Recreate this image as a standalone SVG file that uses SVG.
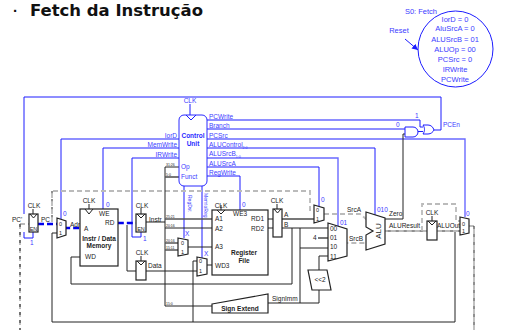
<svg xmlns="http://www.w3.org/2000/svg" width="530" height="330" viewBox="0 0 530 330">
<style>
text{font-family:"Liberation Sans",Arial,sans-serif;font-size:6.5px;fill:#222}
.b{fill:#3c3cff}
.c{text-anchor:middle}
.e{text-anchor:end}
.t{font-size:3.5px}
.s{font-size:7.5px;fill:#3c3cff;text-anchor:middle}
.w{font-weight:bold;text-anchor:middle}
.n{fill:#fff;stroke:#222;stroke-width:1.2}
.l{fill:none;stroke:#222;stroke-width:1}
.g{fill:none;stroke:#555;stroke-width:1.6}
.u{fill:none;stroke:#1c1cff;stroke-width:1}
.v{fill:none;stroke:#6a6aff;stroke-width:1.4}
.d{fill:none;stroke:#bbb;stroke-width:1.8;stroke-dasharray:5 3}
.k{fill:none;stroke:#222;stroke-width:1;stroke-dasharray:3 5}
.p{fill:none;stroke:#0000ee;stroke-width:2.4;stroke-dasharray:6 3}
</style>
<defs>
<marker id="ah" markerWidth="7" markerHeight="7" refX="6" refY="3" orient="auto"><path d="M0 0L6 3L0 6Z" fill="#1c1cff"/></marker>
</defs>
<text x="13" y="16" style="font-size:15px;font-weight:bold;fill:#111">·</text>
<text x="30" y="16" textLength="173" lengthAdjust="spacingAndGlyphs" style="font-family:'DejaVu Sans',sans-serif;font-size:15px;font-weight:bold;fill:#111">Fetch da Instrução</text>

<g id="state-s0">
<ellipse cx="455.500" cy="49" rx="37.500" ry="38" fill="#fff" stroke="#1c1cff" stroke-width="1"/>
<text class="s" x="421" y="14">S0: Fetch</text>
<text class="s" x="455" y="22">IorD = 0</text>
<text class="s" x="455" y="31">AluSrcA = 0</text>
<text class="s" x="455" y="42">ALUSrcB = 01</text>
<text class="s" x="455" y="52">ALUOp = 00</text>
<text class="s" x="455" y="62">PCSrc = 0</text>
<text class="s" x="455" y="72">IRWrite</text>
<text class="s" x="455" y="82">PCWrite</text>
<text class="s" x="399" y="33">Reset</text>
</g>

<g id="connectors">
<path class="u" d="M405 39L418 50" marker-end="url(#ah)"/>
<path class="u" d="M24 214V97H441V130H434M24 232V238H33V232"/>
<path class="u" d="M207 120H420V127H423"/>
<path class="u" d="M207 129H405"/>
<path class="v" d="M207 139H465V217"/>
<path class="u" d="M207 148H375V217"/>
<path class="v" d="M207 158H338V228"/>
<path class="u" d="M207 167H319V208"/>
<path class="u" d="M207 176H240V210"/>
<path class="v" d="M61 139H179"/>
<path class="u" d="M61 139V219"/>
<path class="v" d="M103 148H179"/>
<path class="u" d="M103 148V209"/>
<path class="v" d="M132 158H179"/>
<path class="u" d="M132 158V237H141V232"/>
<path class="u" d="M184 186V238M202 186V258M190 104V115M418 131.500H423"/>
<path class="k" d="M52 191V222"/>
<path class="d" d="M52 222V191H310V210H314"/>
<path class="d" d="M20 224H29M20 224V330"/>
<path class="k" d="M20 224V330"/>
<path class="l" d="M146 222H165M165 167V306M165 167H179"/>
<path class="g" d="M165 177H179"/>
<path class="g" d="M165 219H212"/>
<path class="l" d="M165 228H212"/>
<path class="g" d="M165 243H178M165 250H178"/>
<path class="l" d="M188 247H212M207 265H212M146 271H197M268 219H273M268 228H273"/>
<path class="l" d="M127 225V271H136"/>
<path class="l" d="M292 228V284H71V257H80"/>
<path class="l" d="M52 233H57M52 233V322H455V231"/>
<path class="l" d="M193 261V322M193 261H197"/>
<path class="l" d="M165 306H212M268 303H319V290"/>
<path class="g" d="M282 219H314"/>
<path class="l" d="M282 228H328M300 228V303M300 248H328M319 270V256H328"/>
<path class="g" d="M318 238H328"/>
<path class="l" d="M385 219H403V134H405"/>
<path class="l" d="M385 231H427M437 231H460"/>
<path class="d" d="M324 214H360L366 219L385 231H427M437 231H460"/>
<path class="d" d="M328 238L347 243H366L385 231"/>
<path class="d" d="M422 231V204H456V221H460M469 226H474V330"/>
<path class="k" d="M474 226V330"/>
<path class="p" d="M38 224H57L66 228H80L118 223H136"/>
</g>

<g id="pc-reg"><rect class="n" x="29" y="214" width="9" height="18"/><path class="l" d="M30 214L33.500 218L37 214M33 209V214"/><text class="c" x="34" y="208">CLK</text><text class="c" x="33.500" y="231" style="font-size:5.500px">EN</text><text x="12" y="222">PC'</text><text x="41" y="222">PC</text><text class="b" x="30" y="245">1</text></g>
<g id="addr-mux"><path class="n" d="M57 218L66 221V235L57 238Z"/><text x="59" y="226" style="font-size:5.500px">0</text><text x="59" y="235" style="font-size:5.500px">1</text><text class="b" x="63" y="216">0</text><text x="70" y="227">Adr</text></g>
<g id="memory"><rect class="n" x="80" y="209" width="38" height="57"/><path class="l" d="M85 209L89 214L93 209M89 204V209"/><text class="c" x="89" y="203">CLK</text><text x="99" y="216">WE</text><text class="b" x="106" y="207">0</text><text x="84" y="231">A</text><text x="105" y="225">RD</text><text class="w" x="99" y="241">Instr / Data</text><text class="w" x="99" y="248">Memory</text><text x="85" y="259">WD</text></g>
<g id="instr-reg"><rect class="n" x="136" y="214" width="10" height="18"/><path class="l" d="M137 214L141 218L145 214M141 208V214"/><text class="c" x="142" y="208">CLK</text><text class="c" x="141" y="231" style="font-size:5.500px">EN</text><text class="b" x="143" y="241">1</text><text x="149" y="222">Instr</text></g>
<g id="data-reg"><rect class="n" x="136" y="261" width="10" height="19"/><path class="l" d="M137 261L141 265L145 261M141 256V261"/><text class="c" x="142" y="255">CLK</text><text x="148" y="268">Data</text></g>
<g id="control-unit"><rect x="179" y="115" width="28" height="71" rx="5" fill="#fff" stroke="#2a2aff" stroke-width="1"/><path class="u" d="M186 115L191 120L196 115"/><text class="c b" x="190" y="103">CLK</text><text class="w b" x="193" y="138" style="fill:#2a2aff">Control</text><text class="w b" x="193" y="146" style="fill:#2a2aff">Unit</text><text class="b" x="181" y="169">Op</text><text class="b" x="181" y="179">Funct</text></g>
<g id="control-labels">
<text class="b" x="209" y="119">PCWrite</text><text class="b" x="209" y="128">Branch</text><text class="b" x="209" y="138">PCSrc</text><text class="b" x="209" y="147">ALUControl<tspan dy="2" style="font-size:3.500px">2:0</tspan></text><text class="b" x="209" y="156">ALUSrcB<tspan dy="2" style="font-size:3.500px">1:0</tspan></text><text class="b" x="209" y="166">ALUSrcA</text><text class="b" x="209" y="175">RegWrite</text>
<text class="b e" x="177" y="138">IorD</text><text class="b e" x="177" y="147">MemWrite</text><text class="b e" x="177" y="157">IRWrite</text>
<text class="b" transform="translate(188 195) rotate(90)" style="font-size:5px">RegDst</text>
<text class="b" transform="translate(204 193) rotate(90)" style="font-size:5px">MemtoReg</text>
<text class="t" x="166" y="166">31:26</text><text class="t" x="166" y="176">5:0</text><text class="t" x="166" y="218">25:21</text><text class="t" x="166" y="227">20:16</text><text class="t" x="166" y="242">20:16</text><text class="t" x="166" y="249">15:11</text><text class="t" x="166" y="305">15:0</text>
</g>
<g id="a3-mux"><path class="n" d="M178 238L188 240V254L178 256Z"/><text x="181" y="245" style="font-size:5.500px">0</text><text x="181" y="254" style="font-size:5.500px">1</text><text class="b" x="185" y="236">X</text></g>
<g id="wd3-mux"><path class="n" d="M197 257L207 259V274L197 276Z"/><text x="199" y="263" style="font-size:5.500px">0</text><text x="199" y="273" style="font-size:5.500px">1</text><text class="b" x="204" y="256">X</text></g>
<g id="register-file"><rect class="n" x="212" y="210" width="56" height="65"/><path class="l" d="M217 210L221 214L225 210M221 205V210"/><text class="c" x="221" y="208">CLK</text><text x="233" y="216">WE3</text><text class="b" x="242" y="207">0</text><text x="215" y="221">A1</text><text x="215" y="231">A2</text><text x="215" y="249">A3</text><text x="215" y="268">WD3</text><text x="251" y="221">RD1</text><text x="251" y="231">RD2</text><text class="w" x="244" y="255">Register</text><text class="w" x="244" y="263">File</text></g>
<g id="ab-reg"><rect class="n" x="273" y="209" width="9" height="28"/><path class="l" d="M274 209L277.500 213L281 209M277 204V209"/><text class="c" x="277" y="203">CLK</text><text x="284" y="217">A</text><text x="284" y="227">B</text></g>
<g id="sign-extend"><path class="n" d="M212 304L268 294V313H212Z"/><text class="w" x="240" y="311">Sign Extend</text><text x="272" y="301">SignImm</text></g>
<g id="srca-mux"><path class="n" d="M314 205L324 208V220L314 223Z"/><text x="316" y="212" style="font-size:5.500px">0</text><text x="316" y="221" style="font-size:5.500px">1</text><text class="b" x="321" y="202">0</text><text x="347" y="212">SrcA</text></g>
<g id="srcb-mux"><path class="n" d="M328 223L347 229V256L328 261Z"/><text x="330" y="231">00</text><text x="330" y="240">01</text><text x="330" y="249">10</text><text x="330" y="259">11</text><text class="b" x="340" y="225">01</text><text x="313" y="240">4</text><text x="349" y="241">SrcB</text></g>
<g id="shift"><path class="n" d="M308 270H327L331 290H312Z"/><text class="c" x="320" y="282">&lt;&lt;2</text></g>
<g id="alu"><path class="n" d="M366 212L385 218V244L366 250V235L373 231L366 227Z"/><text class="c" transform="translate(381 231) rotate(-90)" style="font-size:8px">ALU</text><text class="b" x="377" y="212">010</text><text x="389" y="216">Zero</text><text x="389" y="228">ALUResult</text></g>
<g id="aluout-reg"><rect class="n" x="427" y="221" width="10" height="19"/><path class="l" d="M428 221L432 225L436 221M432 216V221"/><text class="c" x="432" y="215">CLK</text><text x="437" y="228">ALUOut</text></g>
<g id="pc-mux"><path class="n" d="M460 217L469 219V233L460 235Z"/><text x="462" y="226" style="font-size:5.500px">0</text><text x="462" y="233" style="font-size:5.500px">1</text><text class="b" x="466" y="216">0</text></g>
<g id="and-gate"><path d="M405 127H413A5 5 0 0 1 413 137H405Z" fill="#fff" stroke="#1c1cff" stroke-width="1"/><text class="b" x="396" y="127">0</text></g>
<g id="or-gate"><path d="M423 125H428C431 125 433 127 434 130C433 132 431 134 428 134H423C425 131 425 128 423 125Z" fill="#fff" stroke="#1c1cff" stroke-width="1"/><text class="b" x="415" y="118">1</text><text class="b" x="443" y="127">PCEn</text></g>
</svg>
